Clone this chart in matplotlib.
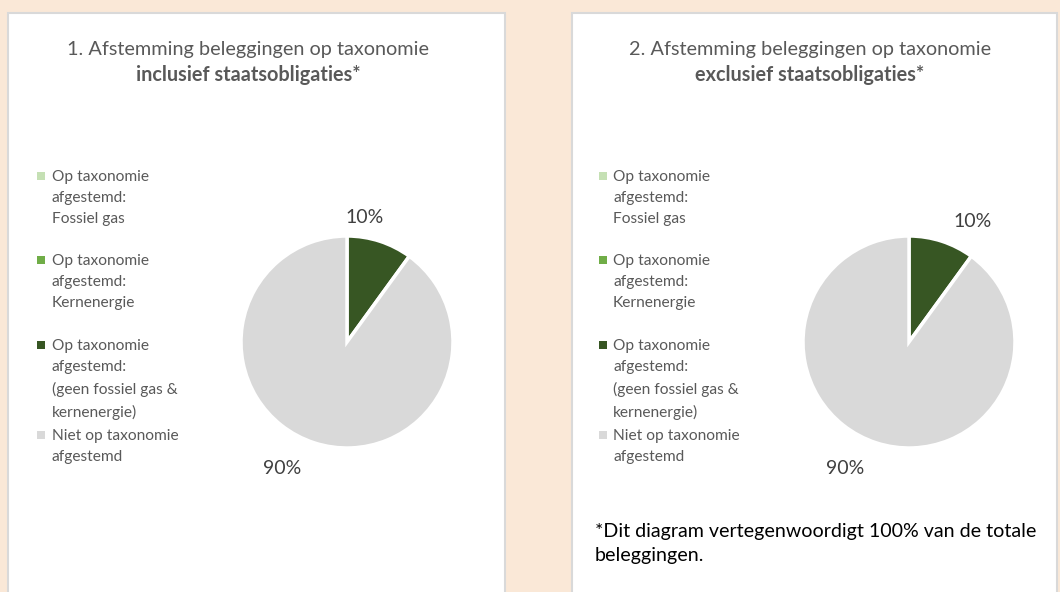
import matplotlib
matplotlib.use("Agg")
import matplotlib.pyplot as plt
from matplotlib.patches import Rectangle

plt.rcParams['font.family'] = ['Lato', 'DejaVu Sans']

# data
categories = [
    "Op taxonomie\nafgestemd:\nFossiel gas",
    "Op taxonomie\nafgestemd:\nKernenergie",
    "Op taxonomie\nafgestemd:\n(geen fossiel gas &\nkernenergie)",
    "Niet op taxonomie\nafgestemd",
]
incl_values = [0, 0, 10, 90]
excl_values = [0, 0, 10, 90]
colors = ["#C5E0B4", "#70AD47", "#375623", "#D9D9D9"]
titles = ["1. Afstemming beleggingen op taxonomie",
          "2. Afstemming beleggingen op taxonomie"]
titles_bold = ["inclusief staatsobligaties*", "exclusief staatsobligaties*"]
footnote = "*Dit diagram vertegenwoordigt 100% van de totale\nbeleggingen."

W, H = 1060, 592
BG = "#FAE8D7"
TXT = "#595959"


def fx(x):
    return x / W


def fy(y):
    return 1 - y / H


def panel(fig, x0, x1):
    fig.add_artist(Rectangle((fx(x0), fy(620)), fx(x1 - x0), (620 - 13) / H,
                             transform=fig.transFigure, facecolor="white",
                             edgecolor="#D9D9D9", linewidth=1.5, zorder=-5))


def legend(fig, mx, tx, ys):
    for cat, col, y in zip(categories, colors, ys):
        fig.add_artist(Rectangle((fx(mx), fy(y + 4)), 8 / W, 8 / H,
                                 transform=fig.transFigure, facecolor=col,
                                 edgecolor="none", zorder=5))
        fig.text(fx(tx), fy(y - 6), cat, ha="left", va="top", fontsize=11.2,
                 color=TXT, linespacing=1.65, zorder=5)


def draw_pie(fig, cx, cy, r, values, lab_pos):
    ax = fig.add_axes([fx(cx - r), fy(cy + r), 2 * r / W, 2 * r / H])
    vals = [v for v in values if v > 0]
    cols = [c for v, c in zip(values, colors) if v > 0]
    ax.pie(vals, colors=cols, startangle=90, counterclock=False,
           wedgeprops=dict(edgecolor="white", linewidth=2.5))
    ax.set_xlim(-1, 1)
    ax.set_ylim(-1, 1)
    ax.set_aspect("equal")
    ax.axis("off")
    for v, (px, py) in zip(vals, lab_pos):
        ax.text(px, py, f"{v}%", ha="center", va="center", fontsize=14,
                color="#404040", clip_on=False)


fig = plt.figure(figsize=(W / 100, H / 100), dpi=100, facecolor=BG)

panel(fig, 8, 505)
panel(fig, 572, 1057)

for i, cxt in enumerate([248, 810]):
    fig.text(fx(cxt), fy(50), titles[i], ha="center", va="center",
             fontsize=14.3, color=TXT)
    fig.text(fx(cxt), fy(75), titles_bold[i], ha="center", va="center",
             fontsize=14.3, color=TXT, fontweight="bold")

legend(fig, 37, 52, [176, 260, 345, 435])
legend(fig, 599, 613, [176, 260, 345, 435])

# label offsets in pie-radius units (layout only)
draw_pie(fig, 347, 342, 106, incl_values, [(0.17, 1.17), (-0.61, -1.19)])
draw_pie(fig, 909, 342, 106, excl_values, [(0.60, 1.14), (-0.60, -1.19)])

fig.text(fx(595), fy(544), footnote, ha="left", va="center", fontsize=14.1,
         color="#000000", linespacing=1.5)

fig.savefig("out.png", dpi=100, facecolor=BG)
